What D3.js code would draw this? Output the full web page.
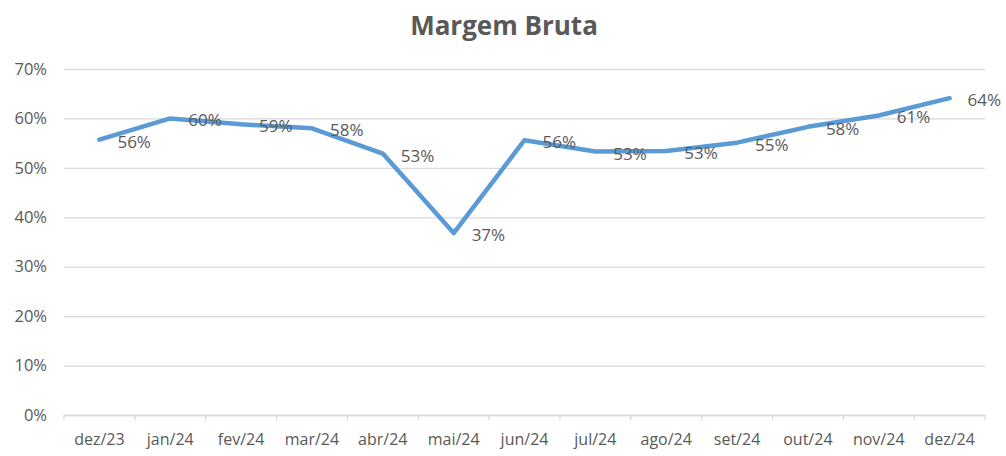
<!DOCTYPE html>
<html>
<head>
<meta charset="utf-8">
<script src="https://cdn.jsdelivr.net/npm/d3@7"></script>
<style>
  body { margin: 0; background: #fff; }
  text { font-family: "Open Sans", sans-serif; fill: #595959; }
</style>
</head>
<body>
<div id="chart"></div>
<script>
// Data
const months = ["dez/23", "jan/24", "fev/24", "mar/24", "abr/24", "mai/24", "jun/24",
                "jul/24", "ago/24", "set/24", "out/24", "nov/24", "dez/24"];
const margem = [55.7, 60.0, 58.8, 58.0, 52.9, 36.8, 55.6, 53.3, 53.4, 55.1, 58.3, 60.6, 64.1];
const labels = ["56%", "60%", "59%", "58%", "53%", "37%", "56%", "53%", "53%", "55%", "58%", "61%", "64%"];
const yTicks = [0, 10, 20, 30, 40, 50, 60, 70];

const width = 1006,
      height = 456;
const margin = {top: 69, right: 21, bottom: 41, left: 64};

const svg = d3.select("#chart")
    .append("svg")
    .attr("width", width)
    .attr("height", height);

// Title
svg.append("text")
    .attr("x", 504)
    .attr("y", 35)
    .attr("text-anchor", "middle")
    .style("font-size", "26px")
    .style("font-weight", "bold")
    .text("Margem Bruta");

const g = svg.append("g")
    .attr("transform", `translate(${margin.left},${margin.top})`);

const innerW = width - margin.left - margin.right;
const innerH = height - margin.top - margin.bottom;

const x = d3.scaleBand()
    .domain(months)
    .range([0, innerW]);

const y = d3.scaleLinear()
    .domain([0, 70])
    .range([innerH, 0]);

// Gridlines + y labels
const yAxis = g.append("g")
    .call(d3.axisLeft(y).tickValues(yTicks).tickSize(-innerW).tickFormat(d => d + "%"));
yAxis.select(".domain").remove();
yAxis.selectAll(".tick line").attr("stroke", "#d9d9d9").attr("stroke-width", 1.3);
yAxis.selectAll(".tick text")
    .attr("x", -17)
    .style("font-size", "16.5px")
    .style("fill", "#595959");

// X axis with ticks at category boundaries
const xAxis = g.append("g")
    .attr("transform", `translate(0,${innerH})`)
    .call(d3.axisBottom(x).tickSize(0).tickPadding(19));
xAxis.select(".domain").attr("stroke", "#d9d9d9").attr("stroke-width", 1.3);
xAxis.selectAll(".tick text")
    .style("font-size", "16px")
    .style("fill", "#595959");

const bounds = months.map(m => x(m)).concat([innerW]);
g.append("g")
    .selectAll("line")
    .data(bounds)
    .enter().append("line")
    .attr("x1", d => d)
    .attr("x2", d => d)
    .attr("y1", innerH)
    .attr("y2", innerH + 5)
    .attr("stroke", "#d9d9d9")
    .attr("stroke-width", 1.3);

// Line
const pts = months.map((m, i) => ({m: m, v: margem[i], label: labels[i]}));
const line = d3.line()
    .x(d => x(d.m) + x.bandwidth() / 2)
    .y(d => y(d.v));

g.append("path")
    .datum(pts)
    .attr("fill", "none")
    .attr("stroke", "#5b9bd5")
    .attr("stroke-width", 4.5)
    .attr("stroke-linejoin", "round")
    .attr("stroke-linecap", "round")
    .attr("d", line);

// Data labels (to the right of each point)
g.selectAll(".lbl")
    .data(pts)
    .enter().append("text")
    .attr("class", "lbl")
    .attr("x", d => x(d.m) + x.bandwidth() / 2 + 18)
    .attr("y", d => y(d.v) + 8)
    .style("font-size", "17px")
    .text(d => d.label);
</script>
</body>
</html>
